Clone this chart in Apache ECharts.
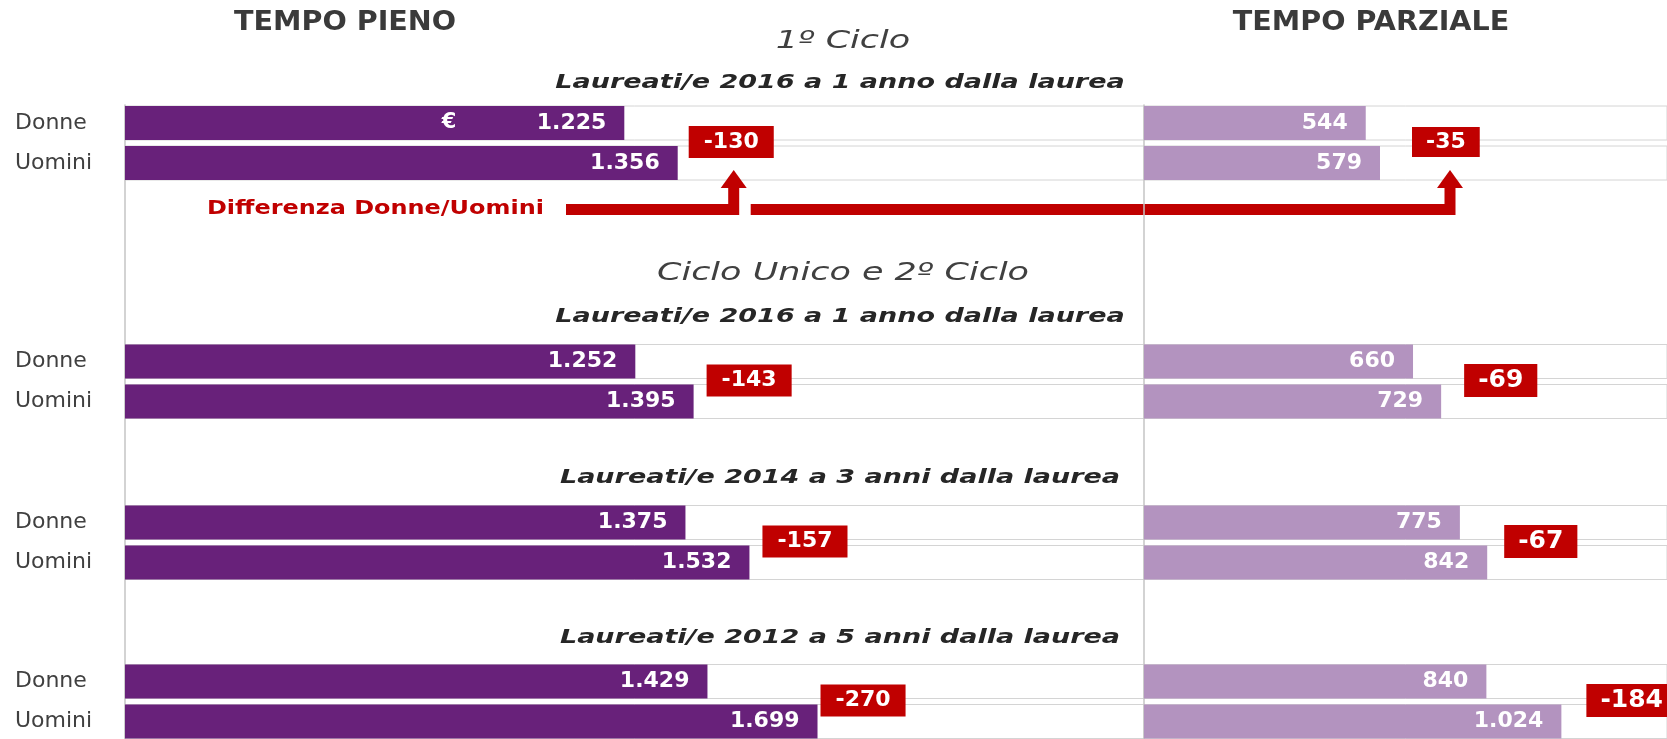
<!DOCTYPE html>
<html>
<head>
<meta charset="utf-8">
<title>Retribuzione mensile netta Donne/Uomini</title>
<script src="https://cdn.jsdelivr.net/npm/echarts@6/dist/echarts.min.js"></script>
<style>
  html, body { margin: 0; padding: 0; background: #fff; }
  #chart { width: 1667px; height: 739px; }
</style>
</head>
<body>
<div id="chart"></div>
<script>
// dati
const categories = ['Donne', 'Uomini'];
const panelTitles = ['TEMPO PIENO', 'TEMPO PARZIALE'];
const sectionTitles = ['1º Ciclo', 'Ciclo Unico e 2º Ciclo'];
const subTitles = [
  'Laureati/e 2016 a 1 anno dalla laurea',
  'Laureati/e 2016 a 1 anno dalla laurea',
  'Laureati/e 2014 a 3 anni dalla laurea',
  'Laureati/e 2012 a 5 anni dalla laurea'
];
const pienoDonne = [1225, 1252, 1375, 1429];
const pienoUomini = [1356, 1395, 1532, 1699];
const parzialeDonne = [544, 660, 775, 840];
const parzialeUomini = [579, 729, 842, 1024];
const diffPieno = [-130, -143, -157, -270];
const diffParziale = [-35, -69, -67, -184];
const diffLabel = 'Differenza Donne/Uomini';

const FONT = '"DejaVu Sans", sans-serif';
const RED = '#c00000';

// layout
const sectionTop = [106, 344.5, 505.5, 664.5];
const BAR_H = 34;
const ROW_PITCH = 40;
const panelLeft = [125, 1144];
const panelWidth = [1019, 523];
const PX_PER_UNIT = 1019 / 2500;   // stessa scala per i due pannelli

const panels = [
  { donne: pienoDonne, uomini: pienoUomini, diff: diffPieno, color: '#68217a',
    gaps: [11, 13, 13, 3], diffSize: [22, 22, 22, 22], diffPad: [5, 15] },
  { donne: parzialeDonne, uomini: parzialeUomini, diff: diffParziale, color: '#b393bf',
    gaps: [32, 23, 17, 25], diffSize: [22, 25, 25, 25], diffPad: [4, 14] }
];

// numeri all'italiana: 1.225
function fmt(v) {
  return String(v).replace(/\B(?=(\d{3})+(?!\d))/g, '.');
}

const grids = [], xAxes = [], yAxes = [], series = [];

panels.forEach((p, pi) => {
  const xMax = panelWidth[pi] / PX_PER_UNIT;
  sectionTop.forEach((top, si) => {
    categories.forEach((cat, ri) => {
      const idx = grids.length;
      const value = ri === 0 ? p.donne[si] : p.uomini[si];
      grids.push({
        left: panelLeft[pi], width: panelWidth[pi],
        top: top + ri * ROW_PITCH, height: BAR_H,
        show: true, borderColor: '#d4d4d4', borderWidth: 1
      });
      xAxes.push({ gridIndex: idx, type: 'value', min: 0, max: xMax, show: false });
      yAxes.push({
        gridIndex: idx, type: 'category', data: [cat],
        axisLine: { show: false }, axisTick: { show: false },
        axisLabel: {
          show: pi === 0, align: 'left', margin: 110,
          color: '#404040', fontSize: 22, fontFamily: FONT
        }
      });
      const euro = pi === 0 && si === 0 && ri === 0;
      series.push({
        type: 'bar', xAxisIndex: idx, yAxisIndex: idx,
        data: [value], barWidth: BAR_H, silent: true,
        itemStyle: { color: p.color },
        label: {
          show: true, position: 'insideRight', distance: 18,
          color: '#fff', fontSize: 22, fontWeight: 'bold', fontFamily: FONT,
          formatter: euro ? '{e|€}' + fmt(value) : fmt(value),
          rich: { e: { width: 95, align: 'left', color: '#fff', fontSize: 21, fontWeight: 'bold', fontFamily: FONT } }
        }
      });
      if (ri === 1) {
        // riquadro rosso con la differenza, a cavallo delle due barre
        series.push({
          type: 'bar', xAxisIndex: idx, yAxisIndex: idx,
          data: [value], barWidth: BAR_H, barGap: '-100%', silent: true,
          itemStyle: { color: 'rgba(0,0,0,0)' },
          label: {
            show: true, position: 'right', distance: p.gaps[si], offset: [0, -21],
            backgroundColor: RED, color: '#fff', padding: p.diffPad,
            fontSize: p.diffSize[si], fontWeight: 'bold', fontFamily: FONT,
            formatter: String(p.diff[si])
          }
        });
      }
    });
  });
});

// assi verticali continui dei due pannelli
panelLeft.forEach((left, pi) => {
  const idx = grids.length;
  grids.push({ left: left, width: panelWidth[pi], top: 105, bottom: 0 });
  xAxes.push({ gridIndex: idx, type: 'value', min: 0, max: 1, show: false });
  yAxes.push({
    gridIndex: idx, type: 'value', min: 0, max: 1,
    axisLine: { show: true, lineStyle: { color: '#c4c4c4', width: 1.5 } },
    axisTick: { show: false }, axisLabel: { show: false }, splitLine: { show: false }
  });
});

const texts = [
  { x: 345, y: 23, text: panelTitles[0], size: 26, weight: 'bold', style: 'normal', color: '#3a3a3a', sx: 1.1 },
  { x: 1371, y: 23, text: panelTitles[1], size: 26, weight: 'bold', style: 'normal', color: '#3a3a3a', sx: 1.1 },
  { x: 843, y: 41, text: sectionTitles[0], size: 25, weight: 'normal', style: 'italic', color: '#404040', sx: 1.4 },
  { x: 843, y: 273, text: sectionTitles[1], size: 25, weight: 'normal', style: 'italic', color: '#404040', sx: 1.4 },
  { x: 840, y: 83, text: subTitles[0], size: 20, weight: 'bold', style: 'italic', color: '#262626', sx: 1.35 },
  { x: 840, y: 317, text: subTitles[1], size: 20, weight: 'bold', style: 'italic', color: '#262626', sx: 1.35 },
  { x: 840, y: 478, text: subTitles[2], size: 20, weight: 'bold', style: 'italic', color: '#262626', sx: 1.35 },
  { x: 840, y: 638, text: subTitles[3], size: 20, weight: 'bold', style: 'italic', color: '#262626', sx: 1.35 }
];

const graphic = texts.map((t) => ({
  type: 'text', x: t.x, y: t.y, scaleX: t.sx, silent: true,
  style: {
    text: t.text, fill: t.color, align: 'center', verticalAlign: 'middle',
    font: t.style + ' ' + t.weight + ' ' + t.size + 'px ' + FONT
  }
}));
graphic.push({
  type: 'text', x: 207, y: 209, scaleX: 1.26, silent: true,
  style: {
    text: diffLabel, fill: RED, align: 'left', verticalAlign: 'middle',
    font: 'bold 19px ' + FONT
  }
});

const chart = echarts.init(document.getElementById('chart'));
chart.setOption({
  animation: false,
  grid: grids,
  xAxis: xAxes,
  yAxis: yAxes,
  series: series,
  graphic: graphic
});

// frecce "Differenza Donne/Uomini" verso i riquadri della prima sezione
const endL = chart.convertToPixel({ xAxisIndex: 1 }, pienoUomini[0]);
const endR = chart.convertToPixel({ xAxisIndex: 9 }, parzialeUomini[0]);
const ax1 = endL + panels[0].gaps[0] + 45;
const ax2 = endR + panels[1].gaps[0] + 38;
const lineY = 209.5;
const arrow = (x0, x1) => [
  {
    type: 'polyline', silent: true,
    shape: { points: [[x0, lineY], [x1, lineY], [x1, 186]] },
    style: { stroke: RED, lineWidth: 11, fill: null, lineJoin: 'miter' }
  },
  {
    type: 'polygon', silent: true,
    shape: { points: [[x1 - 13, 188], [x1 + 13, 188], [x1, 170]] },
    style: { fill: RED }
  }
];
chart.setOption({
  graphic: graphic.concat(arrow(566, ax1), arrow(ax1 + 17, ax2))
});
window.addEventListener('resize', chart.resize);
</script>
</body>
</html>
